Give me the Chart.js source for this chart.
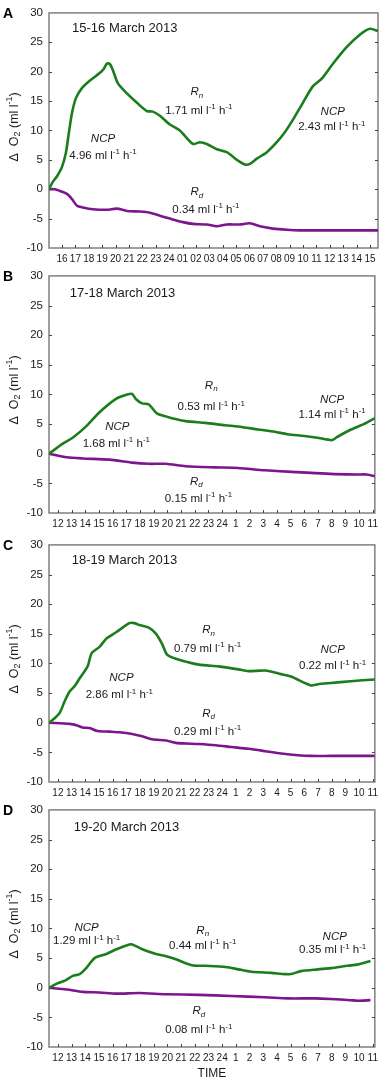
<!DOCTYPE html>
<html><head><meta charset="utf-8">
<script src="https://cdn.jsdelivr.net/npm/chart.js@4.4.1/dist/chart.umd.min.js"></script>
<style>
html,body{margin:0;padding:0;background:#fff;}
body{width:383px;height:1083px;position:relative;overflow:hidden;}
canvas{position:absolute;left:0;}
</style></head><body>
<canvas id="cA" width="383" height="270" style="top:0px;width:383px;height:270px"></canvas>
<canvas id="cB" width="383" height="272" style="top:263px;width:383px;height:272px"></canvas>
<canvas id="cC" width="383" height="272" style="top:532px;width:383px;height:272px"></canvas>
<canvas id="cD" width="383" height="286" style="top:797px;width:383px;height:286px"></canvas>
<script>
// ---------- DATA ----------
// Tick hours (hours since midnight of first day) and their labels
const tickHoursA = [16,17,18,19,20,21,22,23,24,25,26,27,28,29,30,31,32,33,34,35,36,37,38,39];
const tickLabelsA = ['16','17','18','19','20','21','22','23','24','01','02','03','04','05','06','07','08','09','10','11','12','13','14','15'];
const tickHoursBCD = [12,13,14,15,16,17,18,19,20,21,22,23,24,25,26,27,28,29,30,31,32,33,34,35];
const tickLabelsBCD = ['12','13','14','15','16','17','18','19','20','21','22','23','24','1','2','3','4','5','6','7','8','9','10','11'];
const yTicks = [-10,-5,0,5,10,15,20,25,30];

// Panel A: 15-16 March 2013
const timeA_ncp = [15.03,15.3,15.63,16.0,16.3,16.52,16.75,17.04,17.49,18.09,18.84,19.1,19.36,19.58,19.81,20.18,20.85,21.6,22.34,22.79,23.31,24.06,24.8,25.78,26.3,26.82,27.57,28.31,29.06,29.66,30.03,30.55,31.3,32.04,32.64,33.24,33.99,34.73,35.4,36.22,37.27,38.24,38.99,39.6];
const o2A_ncp = [0,1.2,2.2,3.8,6.3,9.7,13,15.5,17.2,18.5,19.8,20.4,21.4,21.3,20.2,18,16.3,14.7,13.3,13.2,12.5,11,10,7.7,8,7.7,6.8,6.3,5,4.2,4.3,5.2,6.3,8,9.7,11.8,14.7,17.5,18.8,21.3,24.2,26.3,27.3,26.9];
const timeA_rd = [15.03,15.48,15.85,16.37,16.75,17.12,17.57,18.31,19.36,20.1,20.85,21.82,22.57,23.31,24.06,25.03,25.78,26.82,27.57,28.31,29.28,30.03,30.78,31.75,32.79,33.76,36.22,39.6];
const o2A_rd = [0,0,-0.3,-0.8,-1.7,-2.8,-3.1,-3.4,-3.5,-3.3,-3.7,-3.8,-4,-4.5,-5,-5.6,-5.9,-6,-6.3,-6,-6,-5.8,-6.3,-6.7,-6.9,-7,-7,-7];

// Panel B: 17-18 March 2013
const timeB_ncp = [11.35,12.36,13.08,14.1,15.04,16.27,17.06,17.42,17.71,18.15,18.65,19.23,19.88,20.32,21.33,22.77,24.22,25.16,26.61,27.84,28.78,30,30.94,32.02,32.38,33.33,34.34,35.15];
const o2B_ncp = [0,1.7,2.7,4.7,7,9.3,10,10.1,9.2,8.5,8.3,6.8,6.3,6,5.5,5.2,4.8,4.6,4.1,3.7,3.3,3,2.7,2.3,2.8,4,5,6];
const timeB_rd = [11.35,12.65,13.81,15.76,17.42,18.65,19.88,21.33,23.5,25.16,27.11,29.5,31.88,33.84,34.56,35.15];
const o2B_rd = [0,-0.6,-0.8,-1,-1.5,-1.7,-1.7,-2.1,-2.3,-2.4,-2.8,-3.1,-3.4,-3.5,-3.5,-3.8];

// Panel C: 18-19 March 2013
const timeC_ncp = [11.35,11.78,12.14,12.51,12.87,13.23,13.59,14.17,14.46,15.04,15.55,16.28,17.22,17.58,17.94,18.67,19.17,19.61,19.97,20.62,22.29,23.74,25.19,25.91,27.14,28.3,29.03,30.48,30.99,31.93,33.38,35.15];
const o2C_ncp = [0,0.8,1.7,3.7,5.3,6.2,7.5,9.5,11.7,12.8,14.2,15.3,16.8,16.8,16.5,16,15,13.3,11.5,10.8,9.8,9.5,9,8.7,8.8,8.2,7.8,6.3,6.5,6.7,7,7.3];
const timeC_rd = [11.35,12.87,13.45,13.81,14.32,14.9,15.77,16.49,17.43,18.16,18.88,19.9,20.62,21.35,22.29,23.52,24.68,25.91,27.14,28.3,29.54,30.48,31.93,35.15];
const o2C_rd = [0,-0.2,-0.5,-0.8,-0.9,-1.4,-1.5,-1.6,-1.9,-2.3,-2.8,-3,-3.4,-3.5,-3.6,-3.8,-4.1,-4.4,-4.8,-5.2,-5.5,-5.6,-5.6,-5.6];

// Panel D: 19-20 March 2013
const timeD_ncp = [11.35,11.93,12.51,13.09,13.59,14.1,14.68,15.55,16.28,17.22,17.43,18.16,19.17,19.9,20.62,21.78,22.8,24.25,25.19,26.13,27.58,28.59,29.03,29.75,30.99,31.93,33.16,33.88,34.39,34.83];
const o2D_ncp = [0,0.7,1.2,2,2.3,3.4,5,5.7,6.5,7.3,7.3,6.5,5.7,5.3,4.8,3.8,3.7,3.5,3.1,2.7,2.5,2.3,2.3,2.8,3.1,3.3,3.7,3.9,4.2,4.5];
const timeD_rd = [11.35,12.65,13.81,15.04,16.28,17.94,19.9,22.29,24.68,27.14,28.81,30.77,31.93,33.38,33.88,34.83];
const o2D_rd = [0,-0.3,-0.7,-0.8,-1,-0.9,-1.1,-1.2,-1.4,-1.6,-1.8,-1.8,-1.9,-2.1,-2.2,-2.1];

// ---------- STYLE / LAYOUT ----------
const GREEN = '#1b7d1b';
const PURPLE = '#7c168c';
const FONT = '"Liberation Sans", Arial, sans-serif';
const TXT = '#1a1a1a';

const pts = (xs, ys) => xs.map((x, i) => ({x, y: ys[i]}));
const rate = s => [{t: s + ' ml l'}, {t: '-1', s: 'sup'}, {t: ' h'}, {t: '-1', s: 'sup'}];
const RN = [{t: 'R', i: true}, {t: 'n', s: 'sub', i: true}];
const RD = [{t: 'R', i: true}, {t: 'd', s: 'sub', i: true}];
const NCP = [{t: 'NCP', i: true}];

function drawRich(ctx, segs, x, y, align, size) {
  const fontFor = sg => `${sg.i ? 'italic ' : ''}${(sg.s === 'sup' || sg.s === 'sub') ? Math.round(size * 0.7) : size}px ${FONT}`;
  const widths = segs.map(sg => { ctx.font = fontFor(sg); return ctx.measureText(sg.t).width; });
  const w = widths.reduce((a, b) => a + b, 0);
  let cx = align === 'left' ? x : (align === 'right' ? x - w : x - w / 2);
  ctx.textAlign = 'left';
  ctx.textBaseline = 'alphabetic';
  const base = y + size * 0.36;
  segs.forEach((sg, k) => {
    ctx.font = fontFor(sg);
    let dy = 0;
    if (sg.s === 'sup') dy = -size * 0.42;
    if (sg.s === 'sub') dy = size * 0.22;
    ctx.fillText(sg.t, cx, base + dy);
    cx += widths[k];
  });
}

const panels = [
  {id: 'cA', letter: 'A', pad: 8, xh: 22, xMin: 15.03, xMax: 39.6, tickHours: tickHoursA, tickLabels: tickLabelsA,
   ncp: pts(timeA_ncp, o2A_ncp), rd: pts(timeA_rd, o2A_rd), time: false,
   notes: [
     {x: 16.75, y: 27.5, align: 'left', size: 13, segs: [{t: '15-16 March 2013'}]},
     {x: 26.07, y: 16.7, segs: RN}, {x: 26.22, y: 13.5, segs: rate('1.71')},
     {x: 36.22, y: 13.3, segs: NCP}, {x: 36.15, y: 10.7, segs: rate('2.43')},
     {x: 19.06, y: 8.7, segs: NCP}, {x: 19.06, y: 5.8, segs: rate('4.96')},
     {x: 26.07, y: -0.3, segs: RD}, {x: 26.75, y: -3.3, segs: rate('0.34')}
   ]},
  {id: 'cB', letter: 'B', pad: 10, xh: 22, xMin: 11.35, xMax: 35.15, tickHours: tickHoursBCD, tickLabels: tickLabelsBCD,
   ncp: pts(timeB_ncp, o2B_ncp), rd: pts(timeB_rd, o2B_rd), time: false,
   notes: [
     {x: 12.87, y: 27.2, align: 'left', size: 13, segs: [{t: '17-18 March 2013'}]},
     {x: 23.2, y: 11.7, segs: RN}, {x: 23.2, y: 8.0, segs: rate('0.53')},
     {x: 32.03, y: 9.2, segs: NCP}, {x: 32.03, y: 6.7, segs: rate('1.14')},
     {x: 16.34, y: 4.7, segs: NCP}, {x: 16.27, y: 1.8, segs: rate('1.68')},
     {x: 22.12, y: -4.5, segs: RD}, {x: 22.27, y: -7.5, segs: rate('0.15')}
   ]},
  {id: 'cC', letter: 'C', pad: 10, xh: 22, xMin: 11.35, xMax: 35.15, tickHours: tickHoursBCD, tickLabels: tickLabelsBCD,
   ncp: pts(timeC_ncp, o2C_ncp), rd: pts(timeC_rd, o2C_rd), time: false,
   notes: [
     {x: 13.01, y: 27.5, align: 'left', size: 13, segs: [{t: '18-19 March 2013'}]},
     {x: 23.01, y: 15.8, segs: RN}, {x: 22.94, y: 12.7, segs: rate('0.79')},
     {x: 32.07, y: 12.5, segs: NCP}, {x: 32.07, y: 9.7, segs: rate('0.22')},
     {x: 16.64, y: 7.7, segs: NCP}, {x: 16.49, y: 4.8, segs: rate('2.86')},
     {x: 23.01, y: 1.7, segs: RD}, {x: 22.94, y: -1.3, segs: rate('0.29')}
   ]},
  {id: 'cD', letter: 'D', pad: 10, xh: 36, xMin: 11.35, xMax: 35.15, tickHours: tickHoursBCD, tickLabels: tickLabelsBCD,
   ncp: pts(timeD_ncp, o2D_ncp), rd: pts(timeD_rd, o2D_rd), time: true,
   notes: [
     {x: 13.16, y: 27.3, align: 'left', size: 13, segs: [{t: '19-20 March 2013'}]},
     {x: 14.1, y: 10.3, segs: NCP}, {x: 14.1, y: 8.0, segs: rate('1.29')},
     {x: 22.58, y: 9.8, segs: RN}, {x: 22.58, y: 7.2, segs: rate('0.44')},
     {x: 32.22, y: 8.7, segs: NCP}, {x: 32.07, y: 6.5, segs: rate('0.35')},
     {x: 22.29, y: -3.8, segs: RD}, {x: 22.29, y: -7.0, segs: rate('0.08')}
   ]}
];

function makeDecor(p) {
  return {
    id: 'decor' + p.letter,
    beforeDatasetsDraw(chart) {
      const {ctx, chartArea: a, scales: {x, y}} = chart;
      ctx.save();
      ctx.strokeStyle = '#808080';
      ctx.lineWidth = 1.5;
      ctx.strokeRect(a.left, a.top, a.right - a.left, a.bottom - a.top);
      ctx.strokeStyle = '#444';
      ctx.lineWidth = 1;
      ctx.beginPath();
      p.tickHours.forEach(h => {
        const px = Math.round(x.getPixelForValue(h)) + 0.5;
        ctx.moveTo(px, a.bottom); ctx.lineTo(px, a.bottom - 3);
      });
      yTicks.forEach(v => {
        if (v <= -10 || v >= 30) return;
        const py = Math.round(y.getPixelForValue(v)) + 0.5;
        ctx.moveTo(a.left, py); ctx.lineTo(a.left + 3, py);
        ctx.moveTo(a.right, py); ctx.lineTo(a.right - 3, py);
      });
      ctx.stroke();
      ctx.restore();
    },
    afterDraw(chart) {
      const {ctx, chartArea: a, scales: {x, y}} = chart;
      ctx.save();
      ctx.fillStyle = TXT;
      p.notes.forEach(n => {
        drawRich(ctx, n.segs, x.getPixelForValue(n.x), y.getPixelForValue(n.y), n.align || 'center', n.size || 11.5);
      });
      // panel letter
      ctx.font = `bold 14px ${FONT}`;
      ctx.textAlign = 'left';
      ctx.textBaseline = 'middle';
      ctx.fillStyle = '#000';
      ctx.fillText(p.letter, 3, a.top + 1);
      // y axis title
      ctx.fillStyle = TXT;
      ctx.translate(13, a.top + 114);
      ctx.rotate(-Math.PI / 2);
      drawRich(ctx, [{t: 'Δ  O'}, {t: '2', s: 'sub'}, {t: ' (ml l'}, {t: '-1', s: 'sup'}, {t: ')'}], 0, 0, 'center', 12.5);
      ctx.restore();
    }
  };
}

panels.forEach(p => {
  new Chart(document.getElementById(p.id), {
    type: 'line',
    data: {datasets: [
      {label: 'NCP', data: p.ncp, borderColor: GREEN, borderWidth: 2.6, pointRadius: 0, tension: 0.25, fill: false},
      {label: 'Rd', data: p.rd, borderColor: PURPLE, borderWidth: 2.6, pointRadius: 0, tension: 0.25, fill: false}
    ]},
    options: {
      responsive: false, animation: false, devicePixelRatio: 1,
      layout: {padding: {top: p.pad, right: 5, left: 0, bottom: 0}},
      plugins: {legend: {display: false}, tooltip: {enabled: false}},
      scales: {
        x: {
          type: 'linear', min: p.xMin, max: p.xMax,
          grid: {display: false, drawTicks: false}, border: {display: false},
          ticks: {autoSkip: false, maxRotation: 0, minRotation: 0, padding: 5, color: TXT,
                  font: {family: FONT, size: 10}, callback: (v, i) => p.tickLabels[i]},
          afterBuildTicks: s => { s.ticks = p.tickHours.map(v => ({value: v})); },
          afterFit: s => { s.height = p.xh; },
          title: {display: p.time, text: 'TIME', color: TXT, font: {family: FONT, size: 12}, padding: {top: 0, bottom: 2}}
        },
        y: {
          min: -10, max: 30,
          grid: {display: false, drawTicks: false}, border: {display: false},
          ticks: {stepSize: 5, padding: 6, color: TXT, font: {family: FONT, size: 11.5}},
          afterFit: s => { s.width = 49; }
        }
      }
    },
    plugins: [makeDecor(p)]
  });
});
</script>
</body></html>
